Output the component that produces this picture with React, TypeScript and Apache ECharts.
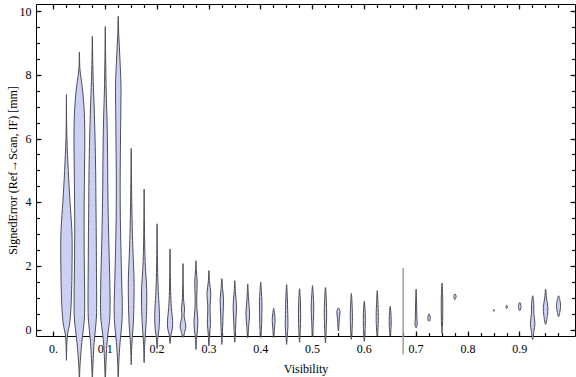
import React, { useEffect, useRef } from "react";
import * as echarts from "echarts";

// Visibility bins (x positions of the violins)
const violinX: number[] = [
  0.025, 0.05, 0.075, 0.1, 0.125, 0.15, 0.175, 0.2, 0.225, 0.25,
  0.275, 0.3, 0.325, 0.35, 0.375, 0.4, 0.425, 0.45, 0.475, 0.5,
  0.525, 0.55, 0.575, 0.6, 0.625, 0.65, 0.675, 0.7, 0.725, 0.75,
  0.775, 0.85, 0.875, 0.9, 0.925, 0.95, 0.975,
];

// Density profiles: [signed error (mm), relative density] from top to bottom
const violinProfiles: number[][][] = [
  [[7.39,0],[6.5,0.03],[6.0,0.08],[5.0,0.3],[4.0,0.6],[3.2,0.88],[2.7,0.95],[2.0,0.93],[1.4,0.88],[0.8,0.78],[0.4,0.65],[0.1,0.45],[-0.1,0.22],[-0.35,0.08],[-0.7,0.03],[-0.96,0]],
  [[8.73,0],[8.2,0.08],[7.8,0.35],[7.4,0.6],[6.8,0.82],[6.0,0.9],[5.0,0.85],[4.0,0.8],[3.0,0.78],[2.0,0.82],[1.0,0.88],[0.4,0.85],[0.0,0.65],[-0.4,0.4],[-0.8,0.22],[-1.2,0.08],[-1.6,0]],
  [[9.22,0],[8.5,0.06],[7.8,0.15],[7.0,0.3],[6.0,0.45],[5.0,0.55],[4.0,0.6],[3.0,0.65],[2.0,0.68],[1.0,0.72],[0.4,0.68],[0.0,0.5],[-0.4,0.3],[-0.9,0.15],[-1.3,0.06],[-1.7,0]],
  [[9.53,0],[8.5,0.06],[7.5,0.15],[6.5,0.3],[5.5,0.38],[4.5,0.42],[3.5,0.5],[2.5,0.62],[1.5,0.75],[0.8,0.8],[0.3,0.72],[-0.1,0.45],[-0.5,0.25],[-1.0,0.12],[-1.4,0.05],[-1.8,0]],
  [[9.85,0],[9.3,0.08],[8.5,0.28],[7.7,0.45],[6.8,0.42],[5.5,0.35],[4.5,0.32],[3.5,0.35],[2.5,0.45],[1.5,0.58],[0.7,0.68],[0.2,0.6],[-0.2,0.4],[-0.6,0.22],[-1.1,0.08],[-1.7,0]],
  [[5.7,0],[4.8,0.04],[4.0,0.1],[3.0,0.2],[2.2,0.35],[1.5,0.48],[0.8,0.45],[0.2,0.35],[-0.2,0.2],[-0.5,0.1],[-0.8,0.04],[-1.1,0]],
  [[4.42,0],[3.5,0.04],[2.6,0.1],[2.0,0.2],[1.3,0.42],[0.7,0.42],[0.2,0.32],[-0.2,0.18],[-0.5,0.08],[-1.03,0]],
  [[3.33,0],[2.5,0.04],[1.8,0.1],[1.2,0.2],[0.7,0.35],[0.35,0.4],[0.0,0.3],[-0.25,0.12],[-0.59,0]],
  [[2.54,0],[1.8,0.04],[1.2,0.1],[0.7,0.22],[0.3,0.42],[0.05,0.4],[-0.15,0.15],[-0.43,0]],
  [[2.08,0],[1.4,0.04],[0.9,0.12],[0.65,0.26],[0.45,0.18],[0.3,0.3],[0.12,0.48],[-0.05,0.3],[-0.24,0]],
  [[2.17,0],[1.9,0.06],[1.5,0.2],[1.1,0.14],[0.7,0.15],[0.3,0.32],[0.0,0.25],[-0.3,0.08],[-0.62,0]],
  [[1.86,0],[1.5,0.1],[1.15,0.32],[0.8,0.2],[0.5,0.2],[0.2,0.26],[-0.1,0.12],[-0.51,0]],
  [[1.61,0],[1.3,0.12],[0.95,0.28],[0.5,0.2],[0.1,0.14],[-0.2,0.06],[-0.46,0]],
  [[1.54,0],[1.2,0.1],[0.75,0.28],[0.3,0.18],[0.0,0.12],[-0.39,0]],
  [[1.44,0],[1.0,0.12],[0.5,0.3],[0.1,0.15],[-0.25,0]],
  [[1.5,0],[1.2,0.12],[0.9,0.2],[0.4,0.18],[0.0,0.12],[-0.24,0]],
  [[0.67,0],[0.5,0.15],[0.3,0.24],[0.0,0.12],[-0.24,0]],
  [[1.42,0],[1.0,0.12],[0.6,0.18],[0.1,0.22],[-0.2,0.1],[-0.46,0]],
  [[1.29,0],[0.9,0.14],[0.4,0.18],[0.0,0.12],[-0.39,0]],
  [[1.39,0],[1.1,0.12],[0.75,0.22],[0.3,0.15],[-0.21,0]],
  [[1.33,0],[0.9,0.15],[0.5,0.2],[0.0,0.12],[-0.41,0]],
  [[0.69,0],[0.58,0.26],[0.35,0.15],[0.1,0.08],[-0.04,0]],
  [[1.14,0],[0.8,0.12],[0.3,0.18],[-0.3,0]],
  [[0.9,0],[0.5,0.15],[0.1,0.15],[-0.36,0]],
  [[1.23,0],[0.8,0.12],[0.3,0.18],[-0.2,0]],
  [[0.74,0],[0.4,0.15],[0.1,0.15],[-0.2,0]],
  [[1.94,0],[-0.77,0]],
  [[1.28,0],[0.9,0.08],[0.4,0.12],[0.15,0.18],[0.06,0]],
  [[0.5,0],[0.4,0.2],[0.3,0.15],[0.27,0]],
  [[1.47,0],[1.0,0.12],[0.5,0.12],[0.1,0.08],[-0.1,0]],
  [[1.13,0],[1.05,0.2],[0.95,0]],
  [[0.64,0],[0.61,0.08],[0.58,0]],
  [[0.77,0],[0.72,0.15],[0.67,0]],
  [[0.86,0],[0.73,0.22],[0.6,0]],
  [[1.07,0],[0.8,0.18],[0.5,0.2],[0.2,0.38],[-0.05,0.2],[-0.3,0]],
  [[1.28,0],[1.0,0.15],[0.7,0.38],[0.45,0.3],[0.17,0]],
  [[1.07,0],[0.85,0.3],[0.7,0.32],[0.55,0.2],[0.41,0]],
];

const xMajorTicks: number[] = [0, 0.1, 0.2, 0.3, 0.4, 0.5, 0.6, 0.7, 0.8, 0.9];
const yMajorTicks: number[] = [0, 2, 4, 6, 8, 10];

const X_MIN = -0.0328;
const X_MAX = 1.0077;
const Y_MIN = -0.21;
const Y_MAX = 10.22;
const DENSITY_UNIT = 0.0116; // half-width (x units) for relative density 1

const FONT = '"Liberation Serif", "Times New Roman", serif';

const xMinorTicks: number[] = [];
for (let k = 0; k <= 39; k++) xMinorTicks.push(+(k * 0.025).toFixed(3));
const yMinorTicks: number[] = [];
for (let k = 0; k <= 20; k++) yMinorTicks.push(k * 0.5);

function tickAxis(position: string, values: number[], len: number, isX: boolean, extra: any = {}) {
  return {
    type: "value",
    gridIndex: 0,
    position,
    min: isX ? X_MIN : Y_MIN,
    max: isX ? X_MAX : Y_MAX,
    axisLine: { show: false, onZero: false },
    splitLine: { show: false },
    axisTick: {
      show: true,
      inside: true,
      length: len,
      customValues: values,
      lineStyle: { color: "#111", width: 1.2 },
    },
    axisLabel: { show: false },
    ...extra,
  };
}

export default function App() {
  const ref = useRef<HTMLDivElement>(null);
  useEffect(() => {
    document.body.style.margin = "0";
    const chart = echarts.init(ref.current!, null, { renderer: "svg" });
    const option: any = {
      animation: false,
      backgroundColor: "#fff",
      grid: {
        left: 36.5,
        right: 0.5,
        top: 4.5,
        bottom: 40.5,
        containLabel: false,
        outerBoundsMode: "none",
        show: true,
        borderColor: "#000",
        borderWidth: 1,
        backgroundColor: "transparent",
      },
      xAxis: [
        tickAxis("bottom", xMajorTicks, 5, true, {
          axisLabel: {
            show: true,
            customValues: xMajorTicks,
            margin: 6,
            fontFamily: FONT,
            fontSize: 12,
            color: "#000",
            formatter: (v: number) => (v === 0 ? "0." : v.toFixed(1)),
          },
          name: "Visibility",
          nameLocation: "middle",
          nameGap: 26,
          nameMoveOverlap: false,
          nameTextStyle: { fontFamily: FONT, fontSize: 12, color: "#000" },
        }),
        tickAxis("top", xMajorTicks, 5, true),
        tickAxis("bottom", xMinorTicks, 3.5, true),
        tickAxis("top", xMinorTicks, 3.5, true),
      ],
      yAxis: [
        tickAxis("left", yMajorTicks, 5, false, {
          axisLabel: {
            show: true,
            customValues: yMajorTicks,
            margin: 5,
            fontFamily: FONT,
            fontSize: 12,
            color: "#000",
          },
          name: "SignedError (Ref\u2192Scan, IF) [mm]",
          nameLocation: "middle",
          nameGap: 18,
          nameMoveOverlap: false,
          nameTextStyle: { fontFamily: FONT, fontSize: 12, color: "#000" },
        }),
        tickAxis("right", yMajorTicks, 5, false),
        tickAxis("left", yMinorTicks, 3.5, false),
        tickAxis("right", yMinorTicks, 3.5, false),
      ],
      series: [
        {
          type: "custom",
          xAxisIndex: 0,
          yAxisIndex: 0,
          clip: false,
          z: 5,
          data: violinX.map((x, i) => [x, i]),
          encode: { x: 0 },
          renderItem: (params: any, api: any) => {
            const x = api.value(0);
            const i = api.value(1);
            const prof = violinProfiles[i];
            const unitPx = api.size([DENSITY_UNIT, 0])[0];
            const right = prof.map(([y, w]) => {
              const p = api.coord([x, y]);
              return [p[0] + w * unitPx, p[1]];
            });
            const left = prof
              .slice(1, prof.length - 1)
              .reverse()
              .map(([y, w]) => {
                const p = api.coord([x, y]);
                return [p[0] - w * unitPx, p[1]];
              });
            const degenerate = prof.every(([, w]) => w === 0);
            return {
              type: "polygon",
              shape: { points: right.concat(left), smooth: 0.3 },
              style: {
                fill: "#ccd1f4",
                stroke: degenerate ? "#9a9a9a" : "#4b4d57",
                lineWidth: 1,
              },
            };
          },
        },
      ],
    };
    chart.setOption(option);
    return () => chart.dispose();
  }, []);
  return (
    <div
      ref={ref}
      style={{ position: "fixed", left: 0, top: 0, width: 576, height: 377 }}
    />
  );
}
